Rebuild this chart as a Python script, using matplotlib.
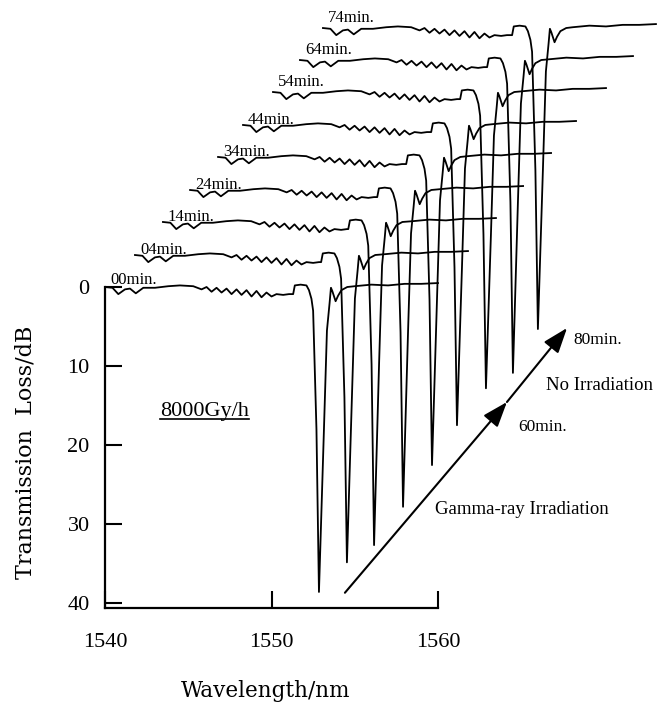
import matplotlib
matplotlib.use('Agg')
import matplotlib.pyplot as plt
import numpy as np
from matplotlib.lines import Line2D

plt.rcParams['font.family'] = ['Liberation Serif', 'DejaVu Serif']

### Data ###

# one spectrum per time step, each drawn shifted right and up
labels = ['00min.', '04min.', '14min.', '24min.', '34min.', '44min.', '54min.', '64min.', '74min.']
start_nm = [1540.0, 1541.80, 1543.48, 1545.11, 1546.79, 1548.29, 1550.09, 1551.71, 1553.09]
base_db = [0.0, -4.05, -8.23, -12.28, -16.46, -20.51, -24.68, -28.73, -32.78]
dip_nm = [1552.85, 1554.53, 1556.16, 1557.90, 1559.64, 1561.14, 1562.88, 1564.50, 1566.00]
dip_db = [38.6, 38.9, 40.9, 40.1, 39.0, 38.0, 37.5, 39.6, 38.1]

# ripple profile shared by every trace (nm from trace start, dB loss)
head_w = [0.0, 0.45, 0.8, 1.2, 1.5, 1.85, 2.3, 3.0, 3.8, 4.5, 5.3, 5.8, 6.1, 6.4,
          6.7, 7.0, 7.3, 7.6, 7.9, 8.2, 8.5, 8.8, 9.1, 9.4, 9.7, 10.0, 10.3, 10.7, 11.05]
head_l = [0.0, 0.1, 0.9, 0.3, 0.2, 0.8, 0.1, 0.1, -0.1, -0.2, -0.1, 0.3, 0.0, 0.6,
          0.1, 0.7, 0.2, 0.9, 0.3, 1.0, 0.4, 1.2, 0.5, 1.3, 0.7, 1.2, 0.9, 1.0, 0.9]
# shape around the Bragg dip (nm from dip centre, dB loss)
left_w = [-1.55, -1.45, -1.1, -0.75, -0.6, -0.45, -0.35, -0.15]
left_l = [0.9, -0.2, -0.3, -0.2, 0.4, 1.5, 3.0, 18.0]
right_w = [0.3, 0.48, 0.64, 0.72, 0.8, 1.0, 1.15, 1.35, 1.7]
right_l = [18.0, 5.5, 2.0, 0.1, 0.5, 1.8, 1.1, 0.4, 0.0]
# flat tail (nm from trace start, dB loss)
tail_w = [15.0, 16.0, 17.0, 18.0, 19.0, 20.0]
tail_l = [-0.1, -0.3, -0.2, -0.4, -0.4, -0.5]

# irradiation arrow and its notes
arrow_nm = [1554.41, 1564.14, 1567.75]
arrow_db = [38.7, 14.56, 5.19]

label_lift = [0.4, 0.1, 0.1, 0.1, 0.1, 0.1, 0.7, 0.7, 0.7]


### Drawing ###

fig = plt.figure(figsize=(6.64, 7.02), dpi=100)
ax = fig.add_axes([105 / 664, 94 / 702, 333 / 664, 321 / 702])

for i, lab in enumerate(labels):
    s, b, d = start_nm[i], base_db[i], dip_nm[i]
    xs = ([s + w for w in head_w] + [d + w for w in left_w] + [d]
          + [d + w for w in right_w] + [s + w for w in tail_w])
    ys = head_l + left_l + [dip_db[i]] + right_l + tail_l
    ax.plot(xs, np.array(ys) + b, color='k', lw=1.3, clip_on=False)
    ax.text(s + 0.3, b - label_lift[i], lab, fontsize=12, ha='left', va='baseline')

ax.set_xlim(1540, 1560)
ax.set_ylim(40.63, 0)
ax.set_xticks([1540, 1550, 1560])
ax.set_yticks([0, 10, 20, 30, 40])
ax.tick_params(axis='both', direction='in', length=12, width=1.5, labelsize=16)
ax.tick_params(axis='y', pad=11)
ax.tick_params(axis='x', pad=18)
for side in ['top', 'right']:
    ax.spines[side].set_visible(False)
for side in ['left', 'bottom']:
    ax.spines[side].set_linewidth(1.6)

ax.set_xlabel('Wavelength/nm', fontsize=15.5, family='DejaVu Serif')
ax.set_ylabel('Transmission  Loss/dB', fontsize=16, family='DejaVu Serif')
ax.xaxis.set_label_coords(0.4835, -0.224)
ax.yaxis.set_label_coords(-0.205, 0.486)

# arrow: irradiation phase then recovery phase
head = dict(arrowstyle='-|>,head_length=1.1,head_width=0.4', color='k', lw=1.5,
            mutation_scale=14, shrinkA=0, shrinkB=0)
ax.annotate('', xy=(arrow_nm[1], arrow_db[1]), xytext=(arrow_nm[0], arrow_db[0]),
            arrowprops=head, annotation_clip=False)
ax.annotate('', xy=(arrow_nm[2], arrow_db[2]), xytext=(arrow_nm[1], arrow_db[1]),
            arrowprops=head, annotation_clip=False)

ax.text(1565.05, 28.2, 'Gamma-ray Irradiation', fontsize=13.5, ha='center', va='center')
ax.text(1566.25, 17.7, '60min.', fontsize=12.5, ha='center', va='center')
ax.text(1569.67, 12.5, 'No Irradiation', fontsize=13.5, ha='center', va='center')
ax.text(1569.61, 6.7, '80min.', fontsize=12.5, ha='center', va='center')
dose = ax.text(1546.0, 15.7, '8000Gy/h', fontsize=16, ha='center', va='center')

# underline the dose rate
fig.canvas.draw()
bb = dose.get_window_extent().transformed(fig.transFigure.inverted())
fig.add_artist(Line2D([bb.x0, bb.x1], [bb.y0 + 0.002, bb.y0 + 0.002],
                      color='k', lw=1.2, transform=fig.transFigure))

fig.savefig('out.png', dpi=100)
